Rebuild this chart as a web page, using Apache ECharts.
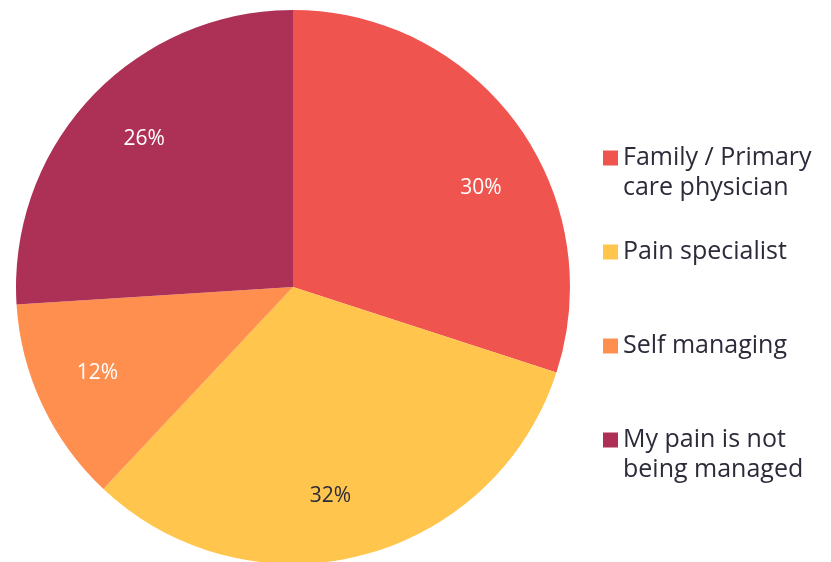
<!DOCTYPE html>
<html>
<head>
<meta charset="utf-8">
<script src="https://cdn.jsdelivr.net/npm/echarts@6/dist/echarts.min.js"></script>
<style>
  html, body { margin: 0; padding: 0; background: #fff; }
  #main { width: 831px; height: 562px; }
</style>
</head>
<body>
<div id="main"></div>
<script>
    // data
    var names = ['Family / Primary\ncare physician', 'Pain specialist', 'Self managing', 'My pain is not\nbeing managed'];
    var values = [30, 32, 12, 26];
    var colors = ['#F0544F', '#FFC54D', '#FF8F4F', '#AD3157'];
    var labelColors = ['#ffffff', '#2b2b3a', '#ffffff', '#ffffff'];
    // small nudges so the % labels sit where the original put them
    var labelOffsets = [[14, 27], [-16, 1], [-1, -6], [8, -1]];

    var font = 'Open Sans';
    var pieData = names.map(function (n, i) {
        return { name: n, value: values[i], itemStyle: { color: colors[i] } };
    });
    var labelData = names.map(function (n, i) {
        return {
            name: n, value: values[i],
            itemStyle: { color: 'rgba(0,0,0,0)' },
            label: { color: labelColors[i], offset: labelOffsets[i] }
        };
    });

    var chart = echarts.init(document.getElementById('main'));
    chart.setOption({
        animation: false,
        legend: {
            orient: 'vertical',
            left: 603,
            top: 113,
            padding: 0,
            icon: 'rect',
            itemWidth: 15,
            itemHeight: 15,
            itemGap: 4,
            data: names,
            // every entry is 3 lines tall so the square lines up with the first text line
            formatter: function (n) {
                return n.indexOf('\n') >= 0 ? ' \n' + n : ' \n' + n + '\n ';
            },
            textStyle: {
                fontFamily: font,
                fontSize: 25,
                lineHeight: 30,
                color: '#2b2b3a'
            }
        },
        series: [{
            name: 'pie',
            type: 'pie',
            center: [293, 287],
            radius: [0, 277],
            startAngle: 90,
            clockwise: true,
            silent: true,
            label: { show: false },
            labelLine: { show: false },
            data: pieData
        }, {
            name: 'labels',
            type: 'pie',
            center: [293, 287],
            radius: [147, 277],
            startAngle: 90,
            clockwise: true,
            silent: true,
            label: {
                show: true,
                position: 'inside',
                formatter: '{c}%',
                fontFamily: font,
                fontSize: 21
            },
            labelLine: { show: false },
            data: labelData
        }]
    });
</script>
</body>
</html>
